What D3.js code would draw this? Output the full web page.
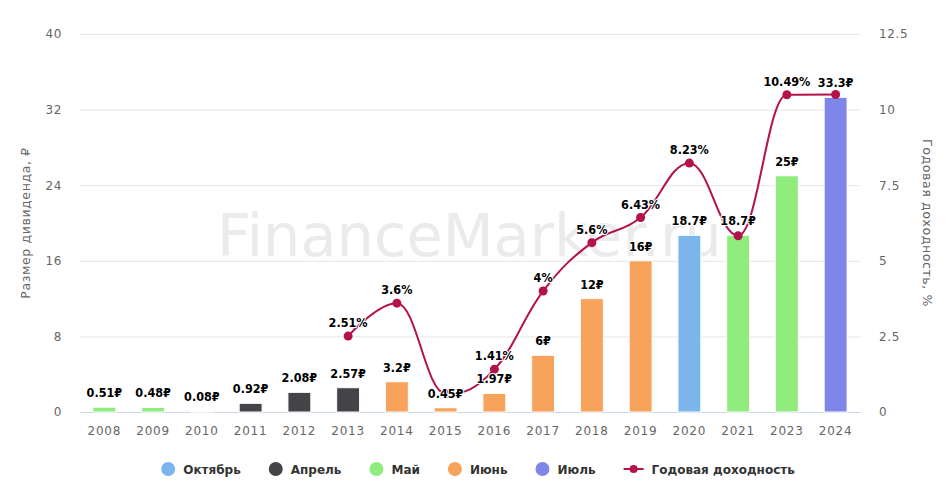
<!DOCTYPE html>
<html>
<head>
<meta charset="utf-8">
<script src="https://cdn.jsdelivr.net/npm/d3@7"></script>
<style>
  html, body { margin: 0; padding: 0; background: #fff; }
  svg { display: block; font-family: "DejaVu Sans", Verdana, sans-serif; }
</style>
</head>
<body>
<div class="graph"></div>
<script>
// data
const years = ['2008', '2009', '2010', '2011', '2012', '2013', '2014', '2015',
    '2016', '2017', '2018', '2019', '2020', '2021', '2023', '2024'];
const dividends = [0.51, 0.48, 0.08, 0.92, 2.08, 2.57, 3.2, 0.45,
    1.97, 6, 12, 16, 18.7, 18.7, 25, 33.3];
const payMonth = ['Май', 'Май', 'Апрель', 'Апрель', 'Апрель', 'Апрель', 'Июнь', 'Июнь',
    'Июнь', 'Июнь', 'Июнь', 'Июнь', 'Октябрь', 'Май', 'Май', 'Июль'];
const yields = [null, null, null, null, null, 2.51, 3.6, 0.6,
    1.41, 4, 5.6, 6.43, 8.23, 5.83, 10.49, 10.5];
const monthNames = ['Октябрь', 'Апрель', 'Май', 'Июнь', 'Июль'];
const monthColors = ['#7cb5ec', '#434348', '#90ed7d', '#f7a35c', '#8085e9'];
const leftTicks = [0, 8, 16, 24, 32, 40];
const rightTicks = [0, 2.5, 5, 7.5, 10, 12.5];
const lineName = 'Годовая доходность';

var width = 950,
    height = 500,
    plot = {left: 80, right: 860, top: 34, bottom: 412},
    lineColor = '#b3124a';

var svg = d3.select('.graph').append('svg')
    .attr('width', width)
    .attr('height', height);

var x = d3.scaleBand()
    .domain(years)
    .range([plot.left, plot.right])
    .padding(0);

var barW = x.step() * 0.47;

var y = d3.scaleLinear()
    .domain([0, 40])
    .range([plot.bottom, plot.top]);

var y2 = d3.scaleLinear()
    .domain([0, 12.5])
    .range([plot.bottom, plot.top]);

var color = d3.scaleOrdinal().domain(monthNames).range(monthColors);

// spline like the one in the picture: smooth, but control points
// never go past the neighbouring values
function splineCurve(context) {
    var pts;
    return {
        areaStart: function () {},
        areaEnd: function () {},
        lineStart: function () { pts = []; },
        point: function (px, py) { pts.push([+px, +py]); },
        lineEnd: function () {
            var n = pts.length, s = 1.5, dn = 2.5, rc = [];
            if (!n) return;
            context.moveTo(pts[0][0], pts[0][1]);
            for (var i = 0; i < n; i++) {
                var p = pts[i], lc = null;
                if (i > 0 && i < n - 1) {
                    var l = pts[i - 1], r = pts[i + 1];
                    var lx = (s * p[0] + l[0]) / dn, ly = (s * p[1] + l[1]) / dn,
                        rx = (s * p[0] + r[0]) / dn, ry = (s * p[1] + r[1]) / dn;
                    var corr = ((ry - ly) * (rx - p[0])) / (rx - lx) + p[1] - ry;
                    ly += corr; ry += corr;
                    if (ly > l[1] && ly > p[1]) { ly = Math.max(l[1], p[1]); ry = 2 * p[1] - ly; }
                    else if (ly < l[1] && ly < p[1]) { ly = Math.min(l[1], p[1]); ry = 2 * p[1] - ly; }
                    if (ry > r[1] && ry > p[1]) { ry = Math.max(r[1], p[1]); ly = 2 * p[1] - ry; }
                    else if (ry < r[1] && ry < p[1]) { ry = Math.min(r[1], p[1]); ly = 2 * p[1] - ry; }
                    lc = [lx, ly];
                    rc[i] = [rx, ry];
                }
                if (i > 0) {
                    var c1 = rc[i - 1] || pts[i - 1], c2 = lc || p;
                    context.bezierCurveTo(c1[0], c1[1], c2[0], c2[1], p[0], p[1]);
                }
            }
        }
    };
}

// watermark
svg.append('text')
    .attr('x', 217)
    .attr('y', 256)
    .attr('font-size', 59)
    .attr('fill', '#ebebeb')
    .text('FinanceMarker.ru');

// grid
svg.append('g')
    .selectAll('line')
    .data(leftTicks.slice(1))
    .join('line')
    .attr('x1', plot.left)
    .attr('x2', plot.right)
    .attr('y1', d => y(d) + 0.5)
    .attr('y2', d => y(d) + 0.5)
    .attr('stroke', '#e6e6e6');

// left axis
var axisL = svg.append('g')
    .attr('transform', 'translate(' + plot.left + ',0)')
    .call(d3.axisLeft(y).tickValues(leftTicks).tickSize(0).tickPadding(18));
axisL.select('.domain').remove();
axisL.selectAll('text')
    .attr('font-size', 12)
    .attr('fill', '#666')
    .attr('font-family', 'DejaVu Sans')
    .style('letter-spacing', '0.6px');

// right axis
var axisR = svg.append('g')
    .attr('transform', 'translate(' + plot.right + ',0)')
    .call(d3.axisRight(y2).tickValues(rightTicks).tickSize(0).tickPadding(19)
        .tickFormat(d => String(d)));
axisR.select('.domain').remove();
axisR.selectAll('text')
    .attr('font-size', 12)
    .attr('fill', '#666')
    .attr('font-family', 'DejaVu Sans')
    .style('letter-spacing', '0.6px');

// x axis
var axisB = svg.append('g')
    .attr('transform', 'translate(0,' + plot.bottom + ')')
    .call(d3.axisBottom(x).tickSize(0).tickPadding(14));
axisB.select('.domain').attr('stroke', '#ccd6eb');
axisB.selectAll('text')
    .attr('font-size', 12)
    .attr('fill', '#666')
    .attr('font-family', 'DejaVu Sans')
    .style('letter-spacing', '0.8px');

// axis titles
svg.append('text')
    .attr('transform', 'translate(30,' + (plot.top + plot.bottom) / 2 + ') rotate(-90)')
    .attr('text-anchor', 'middle')
    .attr('font-size', 12.5)
    .attr('fill', '#666')
    .style('letter-spacing', '0.6px')
    .text('Размер дивиденда, ₽');

svg.append('text')
    .attr('transform', 'translate(923,' + (plot.top + plot.bottom) / 2 + ') rotate(90)')
    .attr('text-anchor', 'middle')
    .attr('font-size', 12.5)
    .attr('fill', '#666')
    .style('letter-spacing', '0.6px')
    .text('Годовая доходность, %');

// bars
svg.append('g')
    .selectAll('rect')
    .data(years)
    .join('rect')
    .attr('x', (d, i) => x(d) + (x.step() - barW) / 2)
    .attr('y', (d, i) => y(dividends[i]))
    .attr('width', barW)
    .attr('height', (d, i) => plot.bottom - y(dividends[i]))
    .attr('fill', (d, i) => color(payMonth[i]))
    .attr('stroke', '#fff')
    .attr('stroke-width', 1);

// yield line
var pts = years.map((d, i) => ({year: d, v: yields[i]})).filter(d => d.v != null);

var line = d3.line()
    .x(d => x(d.year) + x.step() / 2)
    .y(d => y2(d.v))
    .curve(splineCurve);

svg.append('path')
    .datum(pts)
    .attr('d', line)
    .attr('fill', 'none')
    .attr('stroke', lineColor)
    .attr('stroke-width', 2);

svg.append('g')
    .selectAll('circle')
    .data(pts)
    .join('circle')
    .attr('cx', d => x(d.year) + x.step() / 2)
    .attr('cy', d => y2(d.v))
    .attr('r', 4.5)
    .attr('fill', lineColor);

// data labels, bar labels first, then yield labels that do not overlap
var labelLayer = svg.append('g')
    .attr('font-family', '"DejaVu Sans Condensed", "DejaVu Sans", sans-serif')
    .style('font-stretch', 'condensed')
    .attr('font-size', 12.5)
    .attr('font-weight', 'bold')
    .attr('text-anchor', 'middle');

var boxes = [];
function addLabel(cx, baseline, txt, check) {
    var t = labelLayer.append('text')
        .attr('x', cx)
        .attr('y', baseline)
        .attr('fill', '#000')
        .attr('stroke', '#fff')
        .attr('stroke-width', 2)
        .attr('stroke-linejoin', 'round')
        .attr('paint-order', 'stroke')
        .text(txt);
    var b = t.node().getBBox();
    var box = {x0: b.x - 3, x1: b.x + b.width + 3, y0: b.y - 3, y1: b.y + b.height + 3};
    if (check && boxes.some(o => o.x0 < box.x1 && box.x0 < o.x1 && o.y0 < box.y1 && box.y0 < o.y1)) {
        t.remove();
        return;
    }
    boxes.push(box);
}

years.forEach((d, i) => {
    addLabel(x(d) + x.step() / 2, y(dividends[i]) - 10, dividends[i] + '₽', false);
});
pts.forEach(d => {
    addLabel(x(d.year) + x.step() / 2, y2(d.v) - 9, d.v + '%', true);
});

// legend
var legend = svg.append('g')
    .attr('font-size', 12)
    .attr('font-weight', 'bold');

var items = monthNames.map((m, i) => ({name: m, color: monthColors[i], type: 'dot'}))
    .concat([{name: lineName, color: lineColor, type: 'line'}]);

var lx = 0;
items.forEach(it => {
    var g = legend.append('g').attr('transform', 'translate(' + lx + ',0)');
    var symW = it.type === 'dot' ? 14 : 20;
    if (it.type === 'dot') {
        g.append('circle').attr('cx', 7).attr('cy', 0).attr('r', 7).attr('fill', it.color);
    } else {
        g.append('line').attr('x1', 0).attr('x2', 20).attr('y1', 0).attr('y2', 0)
            .attr('stroke', it.color).attr('stroke-width', 2);
        g.append('circle').attr('cx', 10).attr('cy', 0).attr('r', 4).attr('fill', it.color);
    }
    var t = g.append('text')
        .attr('x', symW + 8)
        .attr('y', 4.5)
        .attr('fill', '#333')
        .text(it.name);
    lx += symW + 8 + t.node().getComputedTextLength() + 28;
});
lx -= 28;
legend.attr('transform', 'translate(' + (478 - lx / 2) + ',469)');
</script>
</body>
</html>
